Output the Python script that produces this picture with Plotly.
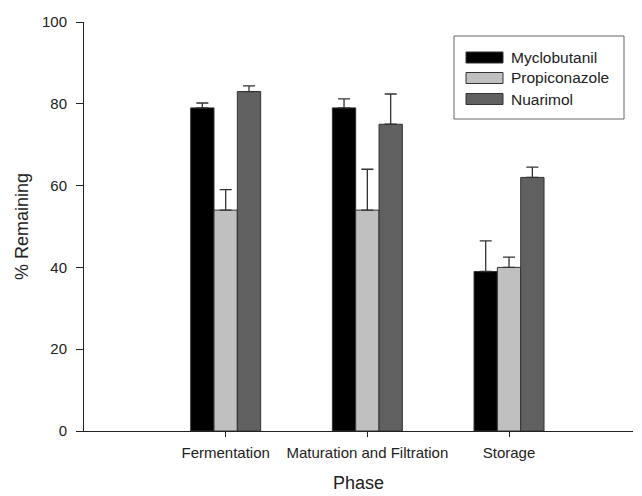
import plotly.graph_objects as go

phases = ["Fermentation", "Maturation and Filtration", "Storage"]
series_names = ["Myclobutanil", "Propiconazole", "Nuarimol"]
myclobutanil = [79, 79, 39]
propiconazole = [54, 54, 40]
nuarimol = [83, 75, 62]
myclobutanil_err = [1.2, 2.2, 7.5]
propiconazole_err = [5, 10, 2.5]
nuarimol_err = [1.4, 7.4, 2.5]
y_ticks = [0, 20, 40, 60, 80, 100]

colors = ["#000000", "#c0c0c0", "#606060"]
values = [myclobutanil, propiconazole, nuarimol]
errs = [myclobutanil_err, propiconazole_err, nuarimol_err]

W, H = 642, 496
ML, MR, MT, MB = 84, 9, 22, 65
PW, PH = W - ML - MR, H - MT - MB


def px(xp):
    return (xp - ML) / PW


def py(yp):
    return (H - MB - yp) / PH


fig = go.Figure()
for name, vals, err, col in zip(series_names, values, errs, colors):
    fig.add_trace(go.Bar(
        name=name, x=phases, y=vals, showlegend=False,
        marker=dict(color=col, line=dict(color="#333333", width=1)),
        error_y=dict(type="data", symmetric=False, array=err,
                     arrayminus=[0] * len(err), color="#333333",
                     thickness=1.3, width=6),
    ))

font = "Liberation Sans, Arial, sans-serif"

# custom legend (box, swatches, labels)
shapes = [dict(type="rect", xref="paper", yref="paper",
               x0=px(454), x1=px(624), y0=py(119), y1=py(36),
               line=dict(color="#666666", width=1), fillcolor="white",
               layer="above")]
annotations = []
row_centers = [57.5, 78, 99]
for name, col, yc in zip(series_names, colors, row_centers):
    shapes.append(dict(type="rect", xref="paper", yref="paper",
                       x0=px(466), x1=px(503), y0=py(yc + 5.5), y1=py(yc - 5.5),
                       line=dict(color="#333333", width=1), fillcolor=col,
                       layer="above"))
    annotations.append(dict(text=name, xref="paper", yref="paper",
                            x=px(509), y=py(yc), xanchor="left", yanchor="middle",
                            showarrow=False, font=dict(size=15.5, color="#222222")))

fig.update_layout(
    width=W, height=H,
    margin=dict(l=ML, r=MR, t=MT, b=MB, autoexpand=False),
    paper_bgcolor="white", plot_bgcolor="white",
    barmode="group", bargap=0.506, bargroupgap=0,
    font=dict(family=font, size=15, color="#222222"),
    shapes=shapes, annotations=annotations,
    xaxis=dict(type="category", range=[-1, 2.875], showline=True,
               linecolor="#222222", linewidth=1, ticks="outside",
               ticklen=5, tickcolor="#222222", showgrid=False,
               tickfont=dict(size=15), ticklabelstandoff=3, automargin=False,
               title=dict(text="Phase", font=dict(size=18), standoff=16)),
    yaxis=dict(range=[0, 100], tickvals=y_ticks, showline=True,
               linecolor="#222222", linewidth=1, ticks="outside",
               ticklen=7, tickcolor="#222222", showgrid=False,
               zeroline=False, tickfont=dict(size=15),
               ticklabelstandoff=6, automargin=False,
               title=dict(text="% Remaining", font=dict(size=18), standoff=8)),
)
fig.write_html("out.html")
